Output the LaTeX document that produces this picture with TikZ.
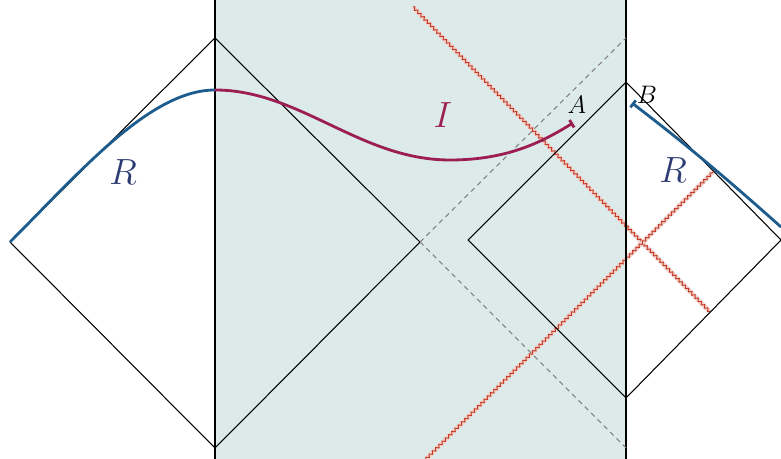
\documentclass[tikz,border=0pt]{standalone}
\usepackage{amsmath}
\usetikzlibrary{arrows.meta,decorations.pathmorphing}
\definecolor{bandcol}{HTML}{DCEBEA}
\definecolor{radcol}{HTML}{1D5C8C}
\definecolor{islcol}{HTML}{9C1E52}
\definecolor{labcol}{HTML}{2C3C72}
\definecolor{zigcol}{HTML}{C43A26}

\begin{document}
\begin{tikzpicture}[>=stealth, x=0.02cm, y=-0.02cm,
		edge/.style={line width=0.6pt},
		horizon/.style={gray, dash pattern=on 2.8pt off 2.3pt, line width=0.6pt},
		shock/.style={zigcol, line width=0.55pt, decorate, decoration={zigzag, amplitude=0.8pt, segment length=2.6pt}},
		glow/.style={zigcol!22, line width=2.6pt},
		bigl/.style={font=\fontsize{20}{22}\selectfont},
		smalll/.style={font=\fontsize{14}{16}\selectfont}]
		\useasboundingbox (0,0) rectangle (781,459);
		% shaded region between the two walls
		\fill[bandcol] (215,0) rectangle (626,459);
		% corners of the two diamonds
		\coordinate (lw) at (10,242);
		\coordinate (lt) at (215,38);
		\coordinate (lb) at (215,448);
		\coordinate (le) at (420,242);
		\coordinate (rw) at (468,240);
		\coordinate (rt) at (626,82);
		\coordinate (rb) at (626,398);
		\coordinate (re) at (781,240);
		% shock waves
		\foreach \a/\b in {{(413,7)}/{(710,312)}, {(426,459)}/{(713,172)}} {
			\draw[glow] \a -- \b;
			\draw[shock] \a -- \b;
		}
		% walls
		\draw[edge] (215,0) -- (215,459);
		\draw[edge] (626,0) -- (626,459);
		% diamonds
		\draw[edge] (lt) -- (lw) -- (lb) -- (le) -- cycle;
		\draw[edge] (rt) -- (rw) -- (rb) -- (re) -- cycle;
		% dashed horizons
		\draw[horizon] (le) -- (626,38);
		\draw[horizon] (le) -- (626,448);
		% radiation and island curves
		\draw[radcol, line width=1.6pt] (lw) .. controls (80,172) and (150,90) .. (215,90);
		\draw[islcol, line width=1.6pt, -{Bar[width=5pt]}] (215,90) .. controls (300,90) and (360,160) .. (450,160) .. controls (510,160) and (545,140) .. (573,123);
		\draw[radcol, line width=1.6pt, {Bar[width=5pt]}-] (632,103) .. controls (675,136) and (715,168) .. (781,227);
		% labels
		\node[bigl, text=labcol] (rl) at (123,172) {$R$};
		\node[bigl, text=islcol] (il) at (443,115) {$I$};
		\node[bigl, text=labcol] (rr) at (673,170) {$R$};
		\node[smalll] (al) at (577,105) {$A$};
		\node[smalll] (bl) at (647,95) {$B$};
	\end{tikzpicture}
\end{document}
